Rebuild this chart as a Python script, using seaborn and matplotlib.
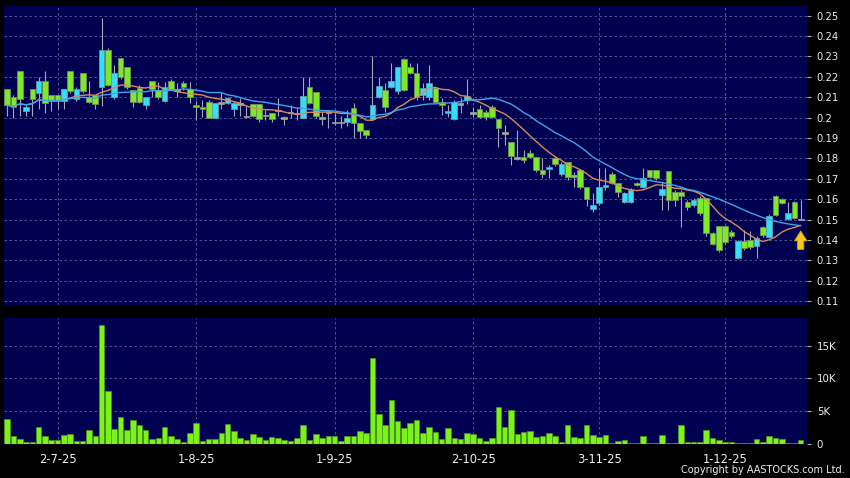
import numpy as np
import pandas as pd
import matplotlib
matplotlib.use("Agg")
import matplotlib.pyplot as plt
import seaborn as sns

# ---------------- data ----------------
open_ = [.214, .210, .223, .203, .214, .212, .218, .211, .211, .208,
         .223, .209, .222, .210, .211, .215, .233, .210, .229, .225,
         .2135, .2145, .206, .218, .2135, .208, .218, .2135, .217, .214,
         .206, .205, .2075, .200, .207, .207, .204, .2065, .2005, .2065,
         .2065, .201, .202, .2035, .1998, .2025, .202, .200, .215, .2125,
         .1998, .2025, .1975, .1975, .1978, .2045, .1973, .1939, .1993, .210,
         .2135, .215, .213, .2287, .2248, .2218, .211, .210, .2145, .2076,
         .2022, .1993, .2066, .2086, .2022, .2042, .2027, .2051, .1993, .1924,
         .188, .1801, .1806, .1826, .1806, .1743, .1752, .1801, .1723, .1782,
         .1713, .1743, .1659, .1551, .1581, .1659, .1723, .1679, .1586, .1586,
         .1679, .1659, .1743, .1743, .162, .1738, .1635, .1635, .1586, .1571,
         .1605, .1605, .1434, .1468, .1468, .1439, .1311, .1395, .140, .137,
         .1463, .1414, .1615, .160, .1502, .1586, .150]
high = [.214, .211, .223, .206, .214, .220, .223, .211, .211, .214,
        .223, .215, .222, .218, .211, .249, .234, .226, .229, .225,
        .2135, .216, .210, .218, .2175, .2175, .219, .217, .218, .2175,
        .208, .2085, .2085, .207, .2125, .210, .208, .2095, .2055, .2065,
        .2065, .2035, .202, .2095, .201, .206, .2045, .220, .220, .2125,
        .2025, .2035, .202, .201, .2035, .207, .1973, .1939, .230, .220,
        .217, .2267, .225, .229, .2267, .2267, .217, .2257, .2145, .2096,
        .2061, .2086, .2096, .219, .2051, .2061, .2037, .2061, .1993, .1963,
        .188, .1939, .1841, .1841, .1806, .1801, .1767, .1811, .1782, .1782,
        .1733, .1743, .1659, .163, .1752, .1752, .1733, .1679, .1635, .1654,
        .1684, .1752, .1743, .1743, .1684, .1738, .1645, .1645, .1596, .1605,
        .1615, .1605, .1439, .1468, .1473, .1449, .140, .1449, .1444, .1419,
        .1468, .1527, .162, .1605, .1586, .1591, .1596]
low = [.201, .200, .201, .201, .201, .204, .202, .203, .204, .204,
       .212, .208, .212, .207, .204, .2055, .2155, .209, .219, .214,
       .205, .207, .204, .210, .209, .2075, .2135, .210, .2135, .207,
       .199, .2005, .1998, .1998, .204, .2065, .201, .201, .200, .2005,
       .198, .199, .198, .201, .1963, .1998, .199, .1998, .2065, .200,
       .1963, .195, .1963, .195, .1958, .190, .190, .190, .1988, .2096,
       .2027, .2145, .2115, .213, .2213, .2086, .2086, .2086, .207, .2012,
       .2002, .1988, .2022, .2066, .2002, .1998, .1988, .1998, .1855, .1865,
       .1767, .1792, .1777, .1801, .1733, .1703, .1703, .1762, .1713, .1694,
       .1659, .165, .1566, .1537, .1571, .1645, .1674, .161, .1581, .1581,
       .1664, .1654, .1703, .1694, .1547, .1547, .1566, .1463, .1547, .1561,
       .1522, .1419, .1375, .1341, .138, .1409, .1306, .135, .1355, .1311,
       .1414, .1409, .1517, .1576, .1497, .1502, .150]
close = [.206, .205, .209, .205, .209, .218, .207, .208, .208, .214,
         .213, .214, .213, .2075, .2065, .233, .216, .222, .220, .215,
         .2075, .2075, .210, .214, .210, .215, .214, .2135, .215, .210,
         .205, .204, .200, .207, .207, .2095, .207, .2065, .2005, .201,
         .1993, .201, .1993, .2035, .1998, .2025, .202, .2105, .207, .201,
         .1998, .2025, .1975, .1975, .200, .1973, .1934, .1914, .206, .2155,
         .205, .218, .2248, .2135, .2218, .210, .2145, .217, .2076, .2061,
         .2032, .2076, .2066, .2105, .2022, .2002, .2002, .2002, .1949, .1924,
         .1811, .1801, .1792, .1806, .1743, .1723, .1757, .1772, .1772, .1708,
         .1713, .1659, .160, .1571, .1659, .1669, .1679, .1635, .163, .1645,
         .1669, .1703, .1708, .1703, .165, .1596, .1596, .1615, .1561, .1596,
         .1532, .1434, .138, .135, .139, .1419, .1395, .136, .1365, .1409,
         .1424, .1517, .1522, .1581, .1532, .1507, .150]
volume_k = [3.8, 1.1, 0.7, 0.3, 0.3, 2.5, 1.2, 0.6, 0.5, 1.3,
            1.4, 0.35, 0.35, 2.1, 1.2, 18.3, 8.0, 2.3, 4.0, 2.0,
            3.6, 2.9, 2.0, 0.7, 0.9, 2.5, 1.2, 0.7, 0.25, 1.6,
            3.1, 0.35, 0.7, 0.7, 1.6, 3.0, 1.9, 0.8, 0.55, 1.5,
            1.0, 0.55, 1.0, 0.9, 0.6, 0.35, 0.8, 2.9, 0.5, 1.5,
            0.9, 1.1, 1.1, 0.4, 1.2, 1.2, 1.9, 1.65, 13.2, 4.5,
            2.9, 6.7, 3.4, 2.4, 3.1, 3.6, 1.55, 2.6, 1.75, 0.7,
            2.4, 0.8, 0.7, 1.55, 1.5, 0.9, 0.4, 0.8, 5.6, 2.5,
            5.1, 1.45, 1.75, 1.85, 1.0, 1.2, 1.6, 1.1, 0.2, 2.9,
            1.0, 0.9, 2.9, 1.3, 1.0, 1.35, 0.15, 0.35, 0.55, 0.05,
            0.05, 1.2, 0.02, 0.1, 1.35, 0.15, 0.15, 2.8, 0.25, 0.2,
            0.2, 2.0, 0.9, 0.6, 0.25, 0.25, 0.15, 0.15, 0.15, 0.7,
            0.3, 1.1, 0.8, 0.7, 0.02, 0.02, 0.5]
date_tick_idx = [8, 30, 52, 74, 94, 114]
date_labels = ["2-7-25", "1-8-25", "1-9-25", "2-10-25", "3-11-25", "1-12-25"]
price_ticks = [0.11, 0.12, 0.13, 0.14, 0.15, 0.16, 0.17, 0.18, 0.19,
               0.20, 0.21, 0.22, 0.23, 0.24, 0.25]
vol_ticks = [0, 5000, 10000, 15000]
vol_labels = ["0", "5K", "10K", "15K"]

# ---------------- frame ----------------
df = pd.DataFrame({"open": open_, "high": high, "low": low, "close": close,
                   "volume": np.array(volume_k) * 1000})
df["idx"] = np.arange(len(df))
df["ma10"] = df["close"].rolling(10, min_periods=1).mean()
df["ma20"] = df["close"].rolling(20, min_periods=1).mean()

NAVY = "#000050"
GREEN = "#7EE82A"
CYAN = "#36DDF6"
GRID = "#5E5EA0"
TXT = "#EDEDED"
TICK = "#B0B0B0"

sns.set_style("dark")
plt.rcParams["font.family"] = ["DejaVu Sans"]

fig = plt.figure(figsize=(8.5, 4.78), dpi=100, facecolor="black")
ax = fig.add_axes([4 / 850, 1 - 305 / 478, 803 / 850, 299 / 478])
axv = fig.add_axes([4 / 850, 1 - 443.5 / 478, 803 / 850, 125.5 / 478])

for a in (ax, axv):
    a.set_facecolor(NAVY)
    for s in a.spines.values():
        s.set_visible(False)

# ---------------- candles ----------------
up = df["close"] > df["open"]
dn = df["close"] < df["open"]
body_col = np.where(up, CYAN, np.where(dn, GREEN, "#9CB08C"))
edge_col = np.where(up, "#5A9FB0", np.where(dn, "#6E8E58", "#9A9A9A"))
diff = (df["open"] - df["close"]).abs()
bottom = np.minimum(df["open"], df["close"])
height = np.maximum(diff, 0.0008)
bottom = np.where(diff < 0.0008, bottom - 0.0004, bottom)

ax.vlines(df["idx"], df["low"], df["high"], color="#A6A6B8", lw=0.8, zorder=2)
ax.bar(df["idx"], height, bottom=bottom, width=0.9, color=body_col,
       edgecolor=edge_col, linewidth=0.6, zorder=3)

sns.lineplot(data=df, x="idx", y="ma10", ax=ax, color="#DA8A5C", lw=1.0,
             zorder=4, legend=False)
sns.lineplot(data=df, x="idx", y="ma20", ax=ax, color="#3EA4EC", lw=1.0,
             zorder=4, legend=False)

# arrow marker under the last candle
last = len(df) - 1
tip = df["low"].iloc[-1] - 0.0042
ax.annotate("", xy=(last, tip), xytext=(last, tip - 0.0118),
            arrowprops=dict(arrowstyle="simple,head_length=0.8,head_width=1.0,tail_width=0.5",
                            fc="#F7C81E", ec="#C99A10", lw=0.6, mutation_scale=9),
            zorder=6)

ax.set_xlim(-0.5, 127)
ax.set_ylim(0.1081, 0.2547)
ax.set_yticks(price_ticks)
ax.set_yticklabels([("%.2f" % v).rstrip("0") for v in price_ticks])
ax.set_xticks(date_tick_idx)
ax.yaxis.tick_right()
ax.tick_params(axis="x", length=0, labelbottom=False)
ax.tick_params(axis="y", length=3, color=TICK, labelcolor=TXT, labelsize=7.2, pad=4)
ax.grid(True, color=GRID, linestyle=(0, (3, 3)), linewidth=0.6)
ax.set_xlabel("")
ax.set_ylabel("")

# ---------------- volume ----------------
sns.barplot(data=df, x="idx", y="volume", ax=axv, native_scale=True,
            color="#7CF21C", saturation=1, edgecolor="#4E9A16", linewidth=0.5,
            width=0.88, errorbar=None, zorder=3)
axv.set_xlim(-0.5, 127)
axv.set_ylim(0, 19300)
axv.set_yticks(vol_ticks)
axv.set_yticklabels(vol_labels)
axv.yaxis.tick_right()
axv.set_xticks(date_tick_idx)
axv.set_xticklabels(date_labels)
axv.tick_params(axis="x", length=3, color=TICK, labelcolor=TXT, labelsize=8.3, pad=4)
axv.tick_params(axis="y", length=3, color=TICK, labelcolor=TXT, labelsize=7.4, pad=4)
axv.grid(True, color=GRID, linestyle=(0, (3, 3)), linewidth=0.6)
axv.set_axisbelow(True)
axv.set_xlabel("")
axv.set_ylabel("")

fig.text(0.994, 0.006, "Copyright by AASTOCKS.com Ltd.", ha="right", va="bottom",
         color=TXT, fontsize=7)

fig.savefig("out.png", dpi=100, facecolor="black")
